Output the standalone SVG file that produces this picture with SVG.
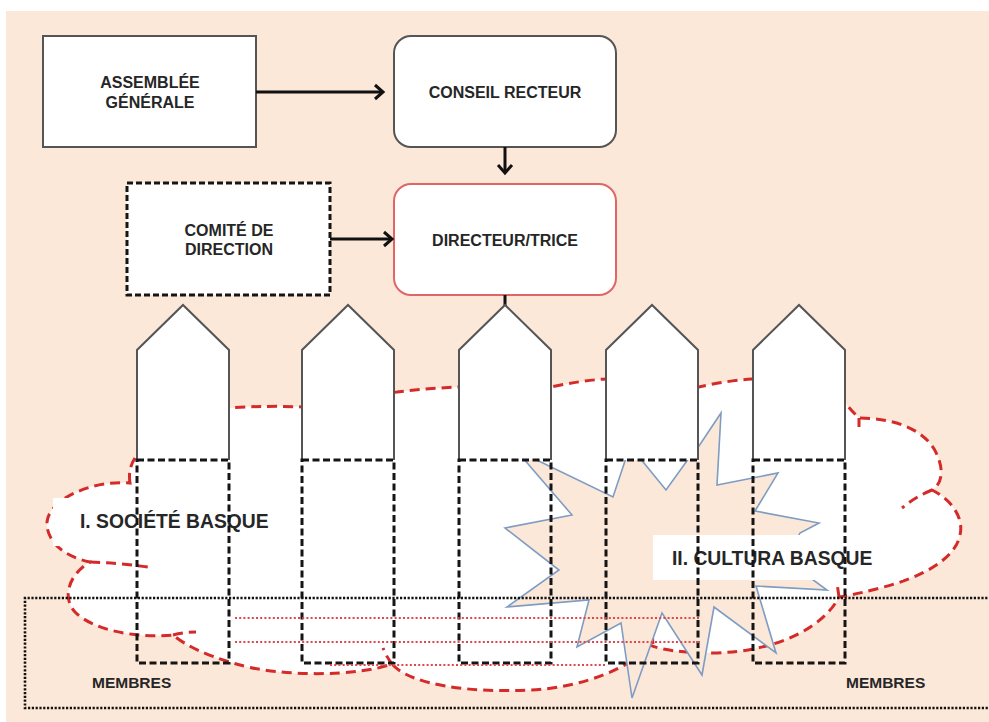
<svg xmlns="http://www.w3.org/2000/svg" width="989" height="722" viewBox="0 0 989 722">
<defs>
<marker id="arr" markerUnits="userSpaceOnUse" markerWidth="16" markerHeight="18" refX="12" refY="9" orient="auto">
<path d="M4,2 L12,9 L4,16" fill="none" stroke="#111" stroke-width="3" stroke-linejoin="miter"/>
</marker>
<style>
.t{font-family:"Liberation Sans",Arial,sans-serif;font-weight:bold;fill:#262626;}
.bt{font-size:16px;text-anchor:middle;}
.lt{font-size:19.3px;}
.mt{font-size:15.5px;}
.box{fill:#fff;stroke:#555;stroke-width:2;}
.conn{stroke:#111;stroke-width:3;fill:none;}
.cloud{fill:#fff;stroke:#d42a2a;stroke-width:3;stroke-dasharray:10 6;}
.stub{fill:none;stroke:#d42a2a;stroke-width:3;stroke-dasharray:10 6;}
.star{fill:#fce8d9;stroke:#7f9cc2;stroke-width:1.6;stroke-linejoin:miter;}
.pent{fill:#fff;stroke:#555;stroke-width:2;}
.drect{fill:none;stroke:#151515;stroke-width:3;stroke-dasharray:7 3.5;}
.rdot{stroke:#e0464b;stroke-width:2;stroke-dasharray:2 2.2;}
.bdot{fill:none;stroke:#111;stroke-width:2.6;stroke-dasharray:2.2 1.6;}
.lbl{fill:#fff;}
</style>
</defs>
<rect x="0" y="0" width="989" height="722" fill="#fff"/>
<rect x="6" y="11" width="983" height="711" fill="#fce8d9"/>

<g id="assemblee">
<rect class="box" x="43" y="36" width="213" height="111"/>
<text class="t bt" x="150" y="88">ASSEMBLÉE</text>
<text class="t bt" x="150" y="108">GÉNÉRALE</text>
</g>
<g id="conseil">
<rect class="box" x="394" y="36" width="222" height="111" rx="17"/>
<text class="t bt" x="505" y="98">CONSEIL RECTEUR</text>
</g>
<g id="comite">
<rect x="127" y="183" width="203" height="112" fill="#fff" stroke="#151515" stroke-width="3" stroke-dasharray="6 3"/>
<text class="t bt" x="229" y="236">COMITÉ DE</text>
<text class="t bt" x="229" y="255">DIRECTION</text>
</g>
<g id="directeur">
<rect x="394" y="184" width="222" height="111" rx="17" fill="#fff" stroke="#e06666" stroke-width="2"/>
<text class="t bt" x="505" y="246">DIRECTEUR/TRICE</text>
</g>
<g id="connectors">
<line class="conn" x1="256" y1="92" x2="383" y2="92" marker-end="url(#arr)"/>
<line class="conn" x1="505" y1="147" x2="505" y2="173" marker-end="url(#arr)"/>
<line class="conn" x1="330" y1="239" x2="392" y2="239" marker-end="url(#arr)"/>
<line class="conn" x1="505" y1="295" x2="505" y2="306"/>
</g>

<g id="cloud">
<path class="cloud" d="M130,483 C128,470 132,462 137,455 C150,425 190,410 229,408 C255,406 280,406 302,407 C330,400 365,394 397,392 C420,389 440,388 458,387 C490,383 525,384 551,387 C570,383 588,380 606,379 C640,377 675,380 699,387 C717,383 735,380 752,379 C790,376 830,390 847,405 C851,410 855,414 859,418 C895,418 930,430 939,460 C944,475 940,485 932,490 C952,500 964,518 960,535 C955,560 920,578 880,588 C865,592 852,595 839,597 C825,625 780,652 713,653 C685,653 660,650 650,645 C635,665 585,688 530,690 C470,693 410,685 392,664 C360,676 280,678 233,663 C205,655 185,645 173,635 C140,638 95,632 75,612 C62,598 68,575 90,562 C62,556 46,540 47,522 C49,500 90,480 130,483 Z"/>
<path class="stub" d="M90,562 Q120,563 148,567 M173,635 Q185,632 196,632 M392,664 Q386,656 383,648 M653,644 Q652,636 653,628 M839,597 Q838,590 837,583 M932,490 Q915,497 902,508 M859,418 Q859,422 859,427"/>
</g>

<g id="star">
<polygon class="star" points="721,413 717,485 778,473 755,511 819,523 800,533 786,560 827,590 756,586 776,653 714,607 702,675 662,613 632,698 621,623 577,647 589,600 507,607 559,570 505,528 572,515 516,450 613,497 630,446 666,490 689,458 695,452"/>
</g>

<g id="label-societe">
<rect class="lbl" x="53" y="498" width="222" height="48"/>
<text class="t lt" x="80" y="528">I. SOCIÉTÉ BASQUE</text>
</g>
<g id="label-cultura">
<rect class="lbl" x="653" y="535" width="250" height="45"/>
<text class="t lt" x="672" y="565">II. CULTURA BASQUE</text>
</g>

<g id="picket1">
<path class="pent" d="M137,460 L137,350 L183,305 L229,350 L229,460"/>
<rect class="drect" x="137" y="460" width="92" height="203"/>
</g>
<g id="picket2">
<path class="pent" d="M302,460 L302,350 L348,305 L394,350 L394,460"/>
<rect class="drect" x="302" y="460" width="92" height="203"/>
</g>
<g id="picket3">
<path class="pent" d="M459,460 L459,350 L505,305 L551,350 L551,460"/>
<rect class="drect" x="459" y="460" width="92" height="203"/>
</g>
<g id="picket4">
<path class="pent" d="M606,460 L606,350 L652,305 L698,350 L698,460"/>
<rect class="drect" x="606" y="460" width="92" height="203"/>
</g>
<g id="picket5">
<path class="pent" d="M753,460 L753,350 L799,305 L845,350 L845,460"/>
<rect class="drect" x="753" y="460" width="92" height="203"/>
</g>

<g id="red-lines">
<line class="rdot" x1="235" y1="618" x2="699" y2="618"/>
<line class="rdot" x1="235" y1="642" x2="699" y2="642"/>
<line class="rdot" x1="330" y1="665" x2="606" y2="665"/>
</g>

<g id="membres">
<path class="bdot" d="M995,598 L25,598 L25,708 L995,708"/>
<text class="t mt" x="92" y="688">MEMBRES</text>
<text class="t mt" x="846" y="688">MEMBRES</text>
</g>
</svg>
